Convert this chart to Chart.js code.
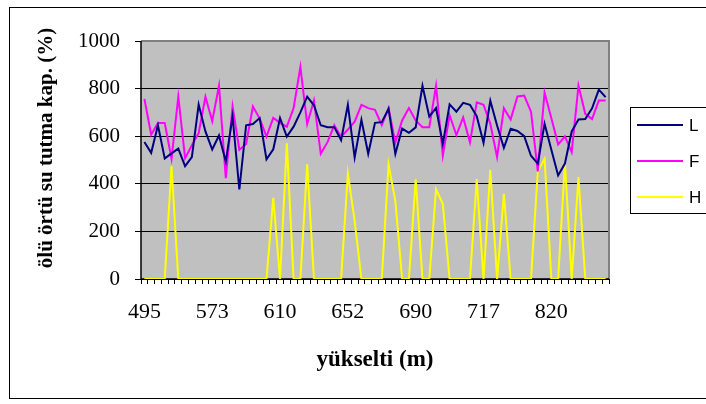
<!DOCTYPE html>
<html>
<head>
<meta charset="utf-8">
<script src="https://cdn.jsdelivr.net/npm/chart.js@4/dist/chart.umd.min.js"></script>
<style>
  html, body { margin: 0; padding: 0; background: #ffffff; }
  #wrap { position: relative; width: 706px; height: 404px; }
</style>
</head>
<body>
<div id="wrap"><canvas id="c" width="706" height="404"></canvas></div>
<script>
// Elevation labels shown on the category axis (one every ten sample points)
const tickLabels = ['495', '573', '610', '652', '690', '717', '820'];
const labelEvery = 10;

// Water holding capacity of the litter layer (%), per sample point
const L = [576, 530, 646, 506, 528, 548, 474, 512, 733, 620,
           544, 603, 494, 683, 376, 646, 651, 676, 503, 545,
           676, 598, 640, 700, 766, 730, 646, 638, 638, 583,
           732, 511, 669, 526, 656, 659, 715, 526, 632, 614,
           637, 812, 683, 718, 568, 734, 703, 740, 732, 684,
           572, 749, 645, 551, 631, 622, 600, 518, 485, 652,
           543, 435, 485, 620, 670, 672, 717, 796, 764];
const F = [757, 606, 655, 655, 505, 766, 508, 562, 613, 766,
           663, 812, 424, 725, 543, 567, 725, 674, 598, 677,
           656, 640, 718, 891, 651, 750, 526, 575, 646, 597,
           628, 661, 732, 718, 711, 646, 718, 573, 666, 718,
           666, 638, 638, 812, 518, 688, 605, 679, 574, 742,
           732, 652, 512, 718, 670, 767, 771, 703, 452, 783,
           675, 566, 599, 533, 812, 694, 672, 750, 750];
const H = [0, 0, 0, 0, 475, 0, 0, 0, 0, 0,
           0, 0, 0, 0, 0, 0, 0, 0, 0, 341,
           0, 570, 0, 0, 482, 0, 0, 0, 0, 0,
           443, 244, 0, 0, 0, 0, 482, 327, 0, 0,
           419, 0, 0, 377, 315, 0, 0, 0, 0, 420,
           0, 459, 0, 358, 0, 0, 0, 0, 452, 505,
           0, 0, 490, 0, 428, 0, 0, 0, 0];

const seriesNames = ['L', 'F', 'H'];
const seriesColors = ['#000080', '#FF00FF', '#FFFF00'];

const yTitle = 'ölü örtü su tutma kap. (%)';
const xTitle = 'yükselti (m)';

const categories = L.map((_, i) => (i % labelEvery === 0 ? tickLabels[i / labelEvery] : ''));

const serif = '"Liberation Serif", "Times New Roman", serif';
const sans = '"Liberation Sans", Arial, sans-serif';

// Gray plot area, outer frame, rotated y title and the boxed legend
const decor = {
  id: 'decor',
  beforeDraw(chart) {
    const { ctx, chartArea: a } = chart;
    ctx.save();
    ctx.fillStyle = '#ffffff';
    ctx.fillRect(0, 0, chart.width, chart.height);
    ctx.strokeStyle = '#000000';
    ctx.lineWidth = 1;
    ctx.strokeRect(9.5, 7.5, 710, 391);
    ctx.fillStyle = '#C0C0C0';
    ctx.fillRect(a.left, a.top, a.right - a.left, a.bottom - a.top);
    ctx.restore();
  },
  beforeDatasetsDraw(chart) {
    const { ctx, chartArea: a } = chart;
    ctx.save();
    ctx.strokeStyle = '#808080';
    ctx.lineWidth = 2;
    ctx.beginPath();
    ctx.moveTo(a.left, a.top);
    ctx.lineTo(a.right, a.top);
    ctx.lineTo(a.right, a.bottom);
    ctx.stroke();
    ctx.strokeStyle = '#000000';
    ctx.lineWidth = 1.5;
    ctx.beginPath();
    ctx.moveTo(a.left, a.top);
    ctx.lineTo(a.left, a.bottom);
    ctx.lineTo(a.right, a.bottom);
    ctx.stroke();
    ctx.restore();
  },
  afterDraw(chart) {
    const { ctx } = chart;
    ctx.save();
    // y axis title
    ctx.translate(47, 148);
    ctx.rotate(-Math.PI / 2);
    ctx.font = 'bold 21px ' + serif;
    ctx.fillStyle = '#000000';
    ctx.textAlign = 'center';
    ctx.textBaseline = 'middle';
    ctx.fillText(yTitle, 0, 0);
    ctx.restore();

    // legend
    ctx.save();
    ctx.strokeStyle = '#000000';
    ctx.lineWidth = 1;
    ctx.fillStyle = '#ffffff';
    ctx.fillRect(630.5, 107.5, 90, 106);
    ctx.strokeRect(630.5, 107.5, 90, 106);
    const rows = [125, 161, 197];
    chart.data.datasets.forEach((ds, i) => {
      const y = rows[i];
      ctx.strokeStyle = ds.borderColor;
      ctx.lineWidth = 2;
      ctx.beginPath();
      ctx.moveTo(637, y);
      ctx.lineTo(683, y);
      ctx.stroke();
      ctx.fillStyle = '#000000';
      ctx.font = '17px ' + sans;
      ctx.textAlign = 'left';
      ctx.textBaseline = 'middle';
      ctx.fillText(ds.label, 689, y + 1);
    });
    ctx.restore();
  }
};

const datasets = [L, F, H].map((vals, i) => ({
  label: seriesNames[i],
  data: vals,
  borderColor: seriesColors[i],
  backgroundColor: seriesColors[i],
  borderWidth: 2,
  pointRadius: 0,
  tension: 0,
  fill: false
}));

new Chart(document.getElementById('c'), {
  type: 'line',
  data: { labels: categories, datasets: datasets },
  plugins: [decor],
  options: {
    responsive: false,
    animation: false,
    devicePixelRatio: 1,
    layout: { padding: { left: 0, top: 41, right: 97, bottom: 0 } },
    plugins: { legend: { display: false }, tooltip: { enabled: false } },
    scales: {
      x: {
        type: 'category',
        offset: true,
        grid: { display: true, offset: true, drawOnChartArea: false, drawTicks: true, tickLength: 5, color: '#000000', lineWidth: 1 },
        border: { display: false },
        ticks: { autoSkip: false, maxRotation: 0, minRotation: 0, padding: 15, color: '#000000', font: { family: serif, size: 22 } },
        title: { display: true, text: xTitle, color: '#000000', font: { family: serif, size: 23, weight: 'bold' }, padding: { top: 0, bottom: 30 } },
        afterFit(scale) { scale.height = 125; }
      },
      y: {
        min: 0,
        max: 1000,
        grid: { color: '#000000', lineWidth: 1, drawTicks: true, tickLength: 6 },
        border: { display: false },
        ticks: { stepSize: 200, padding: 15, color: '#000000', font: { family: serif, size: 21 }, callback: (v) => String(v) },
        afterFit(scale) { scale.width = 141; }
      }
    }
  }
});
</script>
</body>
</html>
